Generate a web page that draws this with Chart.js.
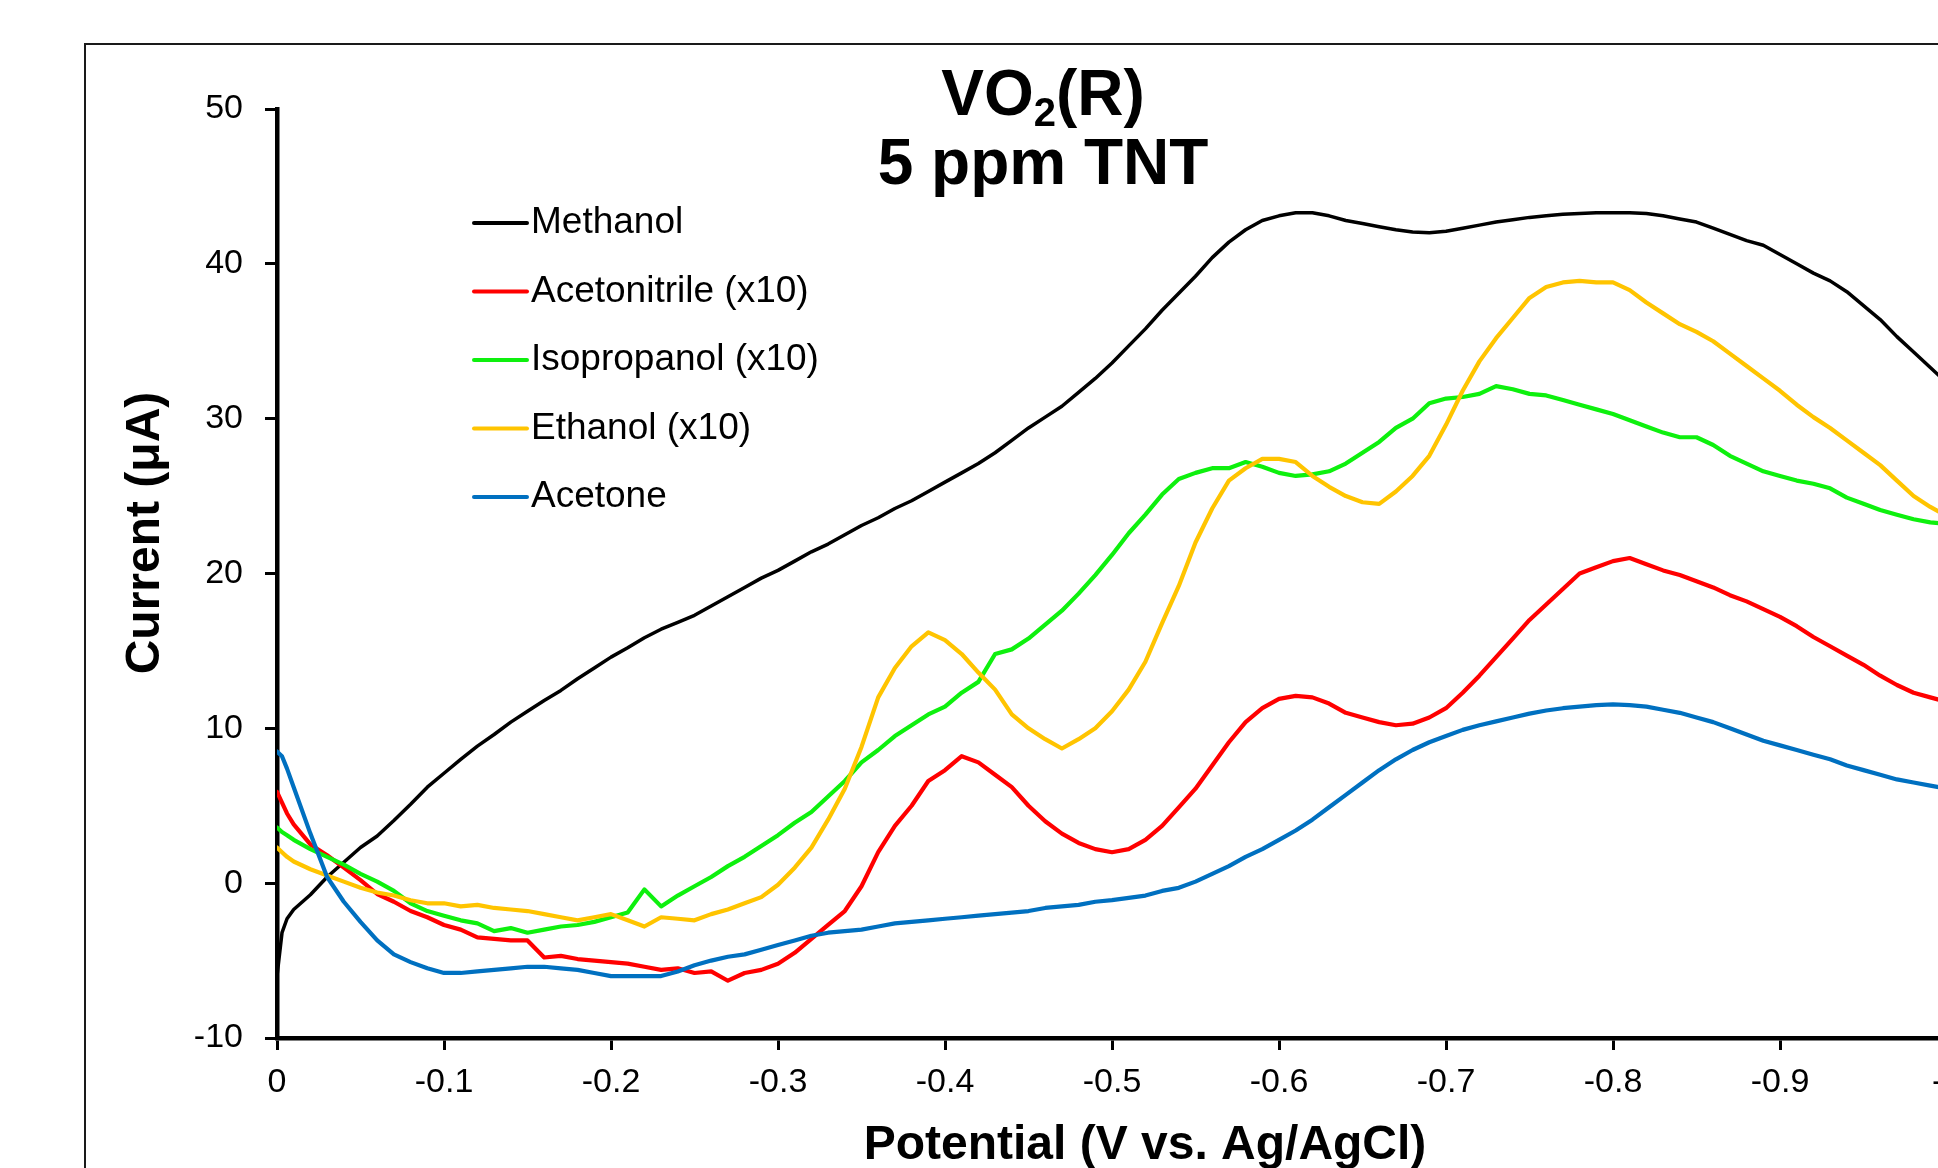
<!DOCTYPE html>
<html lang="en">
  <head>
    <meta charset="UTF-8" />
    <meta name="viewport" content="width=device-width, initial-scale=1.0" />
    <title>VO2(R) 5 ppm TNT</title>
    <script src="https://cdn.jsdelivr.net/npm/chart.js@4.4.0/dist/chart.umd.min.js"></script>

    <style>
      html,
      body {
        margin: 0;
        background-color: white;
        overflow: hidden;
      }
      body {
        position: relative;
        width: 1938px;
        height: 1168px;
      }
      .frame {
        position: absolute;
        left: 84px;
        top: 43px;
        width: 2000px;
        height: 1200px;
        border: 2px solid #1a1a1a;
      }
      .chart-container {
        position: absolute;
        left: 0;
        top: 0;
        width: 2100px;
        height: 1300px;
      }
    </style>
  </head>

  <body>
    <div class="frame"></div>
    <div class="chart-container">
      <canvas id="myChart" width="2100" height="1300"></canvas>
    </div>

    <script>
      // potential (V vs. Ag/AgCl), shared by all five curves
      const potential = [
        0, -0.003, -0.006,
        -0.01, -0.02, -0.03, -0.04, -0.05, -0.06, -0.07, -0.08, -0.09, -0.1,
        -0.11, -0.12, -0.13, -0.14, -0.15, -0.16, -0.17, -0.18, -0.19, -0.2,
        -0.21, -0.22, -0.23, -0.24, -0.25, -0.26, -0.27, -0.28, -0.29, -0.3,
        -0.31, -0.32, -0.33, -0.34, -0.35, -0.36, -0.37, -0.38, -0.39, -0.4,
        -0.41, -0.42, -0.43, -0.44, -0.45, -0.46, -0.47, -0.48, -0.49, -0.5,
        -0.51, -0.52, -0.53, -0.54, -0.55, -0.56, -0.57, -0.58, -0.59, -0.6,
        -0.61, -0.62, -0.63, -0.64, -0.65, -0.66, -0.67, -0.68, -0.69, -0.7,
        -0.71, -0.72, -0.73, -0.74, -0.75, -0.76, -0.77, -0.78, -0.79, -0.8,
        -0.81, -0.82, -0.83, -0.84, -0.85, -0.86, -0.87, -0.88, -0.89, -0.9,
        -0.91, -0.92, -0.93, -0.94, -0.95, -0.96, -0.97, -0.98, -0.99, -1.0,
      ];

      // current (uA)
      const methanol = [
        -6.0, -3.2, -2.3,
        -1.7, -0.75, 0.4, 1.35, 2.3, 3.05, 4.05, 5.1, 6.2, 7.1,
        8.0, 8.85, 9.6, 10.4, 11.1, 11.8, 12.45, 13.2, 13.9, 14.6,
        15.2, 15.85, 16.4, 16.85, 17.3, 17.9, 18.5, 19.1, 19.7, 20.2,
        20.8, 21.4, 21.9, 22.5, 23.1, 23.6, 24.2, 24.7, 25.3, 25.9,
        26.5, 27.1, 27.8, 28.6, 29.4, 30.1, 30.8, 31.7, 32.6, 33.6,
        34.7, 35.8, 37.0, 38.1, 39.2, 40.4, 41.4, 42.2, 42.8, 43.1,
        43.3, 43.3, 43.1, 42.8, 42.6, 42.4, 42.2, 42.05, 42.0, 42.1,
        42.3, 42.5, 42.7, 42.85, 43.0, 43.1, 43.2, 43.25, 43.3, 43.3,
        43.3, 43.25, 43.1, 42.9, 42.7, 42.3, 41.9, 41.5, 41.2, 40.6,
        40.0, 39.4, 38.9, 38.2, 37.3, 36.4, 35.3, 34.3, 33.3, 32.3,
      ];
      const acetonitrile = [
        5.9, 5.2, 4.5,
        3.8, 2.5, 1.8, 1.0, 0.2, -0.7, -1.2, -1.8, -2.2, -2.7,
        -3.0, -3.5, -3.6, -3.7, -3.7, -4.8, -4.7, -4.9, -5.0, -5.1,
        -5.2, -5.4, -5.6, -5.5, -5.8, -5.7, -6.3, -5.8, -5.6, -5.2,
        -4.5, -3.6, -2.7, -1.8, -0.2, 2.0, 3.7, 5.0, 6.6, 7.3,
        8.2, 7.8, 7.0, 6.2, 5.0, 4.0, 3.2, 2.6, 2.2, 2.0,
        2.2, 2.8, 3.7, 4.9, 6.1, 7.6, 9.1, 10.4, 11.3, 11.9,
        12.1, 12.0, 11.6, 11.0, 10.7, 10.4, 10.2, 10.3, 10.7, 11.3,
        12.3, 13.4, 14.6, 15.8, 17.0, 18.0, 19.0, 20.0, 20.4, 20.8,
        21.0, 20.6, 20.2, 19.9, 19.5, 19.1, 18.6, 18.2, 17.7, 17.2,
        16.6, 15.9, 15.3, 14.7, 14.1, 13.4, 12.8, 12.3, 12.0, 11.7,
      ];
      const isopropanol = [
        3.6, 3.3, 3.1,
        2.8, 2.2, 1.7, 1.2, 0.6, 0.1, -0.5, -1.3, -1.8, -2.1,
        -2.4, -2.6, -3.1, -2.9, -3.2, -3.0, -2.8, -2.7, -2.5, -2.2,
        -1.9, -0.4, -1.5, -0.8, -0.2, 0.4, 1.1, 1.7, 2.4, 3.1,
        3.9, 4.6, 5.6, 6.6, 7.8, 8.6, 9.5, 10.2, 10.9, 11.4,
        12.3, 13.0, 14.8, 15.1, 15.8, 16.7, 17.6, 18.7, 19.9, 21.2,
        22.6, 23.8, 25.1, 26.1, 26.5, 26.8, 26.8, 27.2, 26.9, 26.5,
        26.3, 26.4, 26.6, 27.1, 27.8, 28.5, 29.4, 30.0, 31.0, 31.3,
        31.4, 31.6, 32.1, 31.9, 31.6, 31.5, 31.2, 30.9, 30.6, 30.3,
        29.9, 29.5, 29.1, 28.8, 28.8, 28.3, 27.6, 27.1, 26.6, 26.3,
        26.0, 25.8, 25.5, 24.9, 24.5, 24.1, 23.8, 23.5, 23.3, 23.2,
      ];
      const ethanol = [
        2.3, 2.0, 1.7,
        1.4, 0.9, 0.5, 0.1, -0.3, -0.6, -0.8, -1.1, -1.3, -1.3,
        -1.5, -1.4, -1.6, -1.7, -1.8, -2.0, -2.2, -2.4, -2.2, -2.0,
        -2.4, -2.8, -2.2, -2.3, -2.4, -2.0, -1.7, -1.3, -0.9, -0.1,
        1.0, 2.3, 4.1, 6.1, 8.8, 12.0, 13.9, 15.3, 16.2, 15.7,
        14.8, 13.6, 12.5, 10.9, 10.0, 9.3, 8.7, 9.3, 10.0, 11.1,
        12.5, 14.3, 16.8, 19.2, 22.0, 24.2, 26.0, 26.8, 27.4, 27.4,
        27.2, 26.3, 25.6, 25.0, 24.6, 24.5, 25.3, 26.3, 27.6, 29.6,
        31.8, 33.7, 35.2, 36.5, 37.8, 38.5, 38.8, 38.9, 38.8, 38.8,
        38.3, 37.5, 36.8, 36.1, 35.6, 35.0, 34.2, 33.4, 32.6, 31.8,
        30.9, 30.1, 29.4, 28.6, 27.8, 27.0, 26.0, 25.0, 24.3, 23.7,
      ];
      const acetone = [
        8.5, 8.2, 7.4,
        6.2, 3.2, 0.4, -1.2, -2.5, -3.7, -4.6, -5.1, -5.5, -5.8,
        -5.8, -5.7, -5.6, -5.5, -5.4, -5.4, -5.5, -5.6, -5.8, -6.0,
        -6.0, -6.0, -6.0, -5.7, -5.3, -5.0, -4.75, -4.6, -4.3, -4.0,
        -3.7, -3.4, -3.2, -3.1, -3.0, -2.8, -2.6, -2.5, -2.4, -2.3,
        -2.2, -2.1, -2.0, -1.9, -1.8, -1.6, -1.5, -1.4, -1.2, -1.1,
        -0.95, -0.8, -0.5, -0.3, 0.1, 0.6, 1.1, 1.7, 2.2, 2.8,
        3.4, 4.1, 4.9, 5.7, 6.5, 7.3, 8.0, 8.6, 9.1, 9.5,
        9.9, 10.2, 10.45, 10.7, 10.95, 11.15, 11.3, 11.4, 11.5, 11.55,
        11.5, 11.4, 11.2, 11.0, 10.7, 10.4, 10.0, 9.6, 9.2, 8.9,
        8.6, 8.3, 8.0, 7.6, 7.3, 7.0, 6.7, 6.5, 6.3, 6.1,
      ];

      const seriesNames = [
        "Methanol",
        "Acetonitrile (x10)",
        "Isopropanol (x10)",
        "Ethanol (x10)",
        "Acetone",
      ];
      const seriesColors = ["#000000", "#ff0000", "#0ef00e", "#ffc400", "#0070c0"];
      const seriesValues = [methanol, acetonitrile, isopropanol, ethanol, acetone];

      const FONT = "'Liberation Sans', Arial, sans-serif";
      Chart.defaults.font.family = FONT;
      Chart.defaults.color = "#000";

      // title, axis titles and the in-plot legend, placed like the Excel original
      const textPlugin = {
        id: "textPlugin",
        afterDraw(chart) {
          const { ctx, chartArea } = chart;
          const L = chartArea.left;
          const T = chartArea.top;
          const B = chartArea.bottom;
          ctx.save();
          ctx.fillStyle = "#000";

          // chart title with subscript 2
          ctx.textBaseline = "alphabetic";
          ctx.textAlign = "left";
          const big = "bold 64px " + FONT;
          const small = "bold 40px " + FONT;
          ctx.font = big;
          const wVO = ctx.measureText("VO").width;
          const wR = ctx.measureText("(R)").width;
          ctx.font = small;
          const w2 = ctx.measureText("2").width;
          const cx = L + 766;
          let x = cx - (wVO + w2 + wR) / 2;
          ctx.font = big;
          ctx.fillText("VO", x, T + 6);
          x += wVO;
          ctx.font = small;
          ctx.fillText("2", x, T + 17);
          x += w2;
          ctx.font = big;
          ctx.fillText("(R)", x, T + 6);
          ctx.textAlign = "center";
          ctx.fillText("5 ppm TNT", cx, T + 75);

          // axis titles
          ctx.font = "bold 48px " + FONT;
          ctx.fillText("Potential (V vs. Ag/AgCl)", L + 868, B + 121);
          ctx.save();
          ctx.translate(L - 118, T + 424);
          ctx.rotate(-Math.PI / 2);
          ctx.fillText("Current (\u03bcA)", 0, 0);
          ctx.restore();

          // legend
          ctx.font = "37px " + FONT;
          ctx.textAlign = "left";
          ctx.textBaseline = "middle";
          ctx.lineWidth = 4;
          ctx.lineCap = "round";
          seriesNames.forEach((name, i) => {
            const y = T + 114 + 68.5 * i;
            ctx.strokeStyle = seriesColors[i];
            ctx.beginPath();
            ctx.moveTo(L + 197, y);
            ctx.lineTo(L + 250, y);
            ctx.stroke();
            ctx.fillText(name, L + 254, y);
          });
          ctx.restore();
        },
      };

      const datasets = seriesNames.map((name, i) => ({
        label: name,
        data: potential.map((v, j) => ({ x: v, y: seriesValues[i][j] })),
        borderColor: seriesColors[i],
        backgroundColor: seriesColors[i],
        borderWidth: i === 0 ? 3.5 : 4.2,
        pointRadius: 0,
        tension: 0,
        borderJoinStyle: "round",
        borderCapStyle: "round",
        order: seriesNames.length - 1 - i,
      }));

      const axisGrid = {
        drawOnChartArea: false,
        color: "#000",
        lineWidth: 3,
        tickLength: 12,
      };

      const ctx = document.getElementById("myChart").getContext("2d");
      const myChart = new Chart(ctx, {
        type: "line",
        data: { datasets: datasets },
        plugins: [textPlugin],
        options: {
          responsive: false,
          animation: false,
          devicePixelRatio: 1,
          layout: {
            padding: { left: 0, top: 109, right: 153, bottom: 0 },
          },
          scales: {
            x: {
              type: "linear",
              min: -1,
              max: 0,
              reverse: true,
              grid: axisGrid,
              border: { display: true, color: "#000", width: 4.5 },
              ticks: {
                stepSize: 0.1,
                autoSkip: false,
                maxRotation: 0,
                padding: 12,
                color: "#000",
                font: { size: 34 },
                callback: (v) => String(Math.round(v * 10) / 10),
              },
              afterFit: (scale) => {
                scale.height = 262;
              },
            },
            y: {
              type: "linear",
              min: -10,
              max: 50,
              grid: axisGrid,
              border: { display: true, color: "#000", width: 4.5 },
              ticks: {
                stepSize: 10,
                padding: 22,
                color: "#000",
                font: { size: 34 },
              },
              afterFit: (scale) => {
                scale.width = 277;
              },
            },
          },
          plugins: {
            legend: { display: false },
            tooltip: { enabled: false },
            title: { display: false },
          },
        },
      });
    </script>
  </body>
</html>
